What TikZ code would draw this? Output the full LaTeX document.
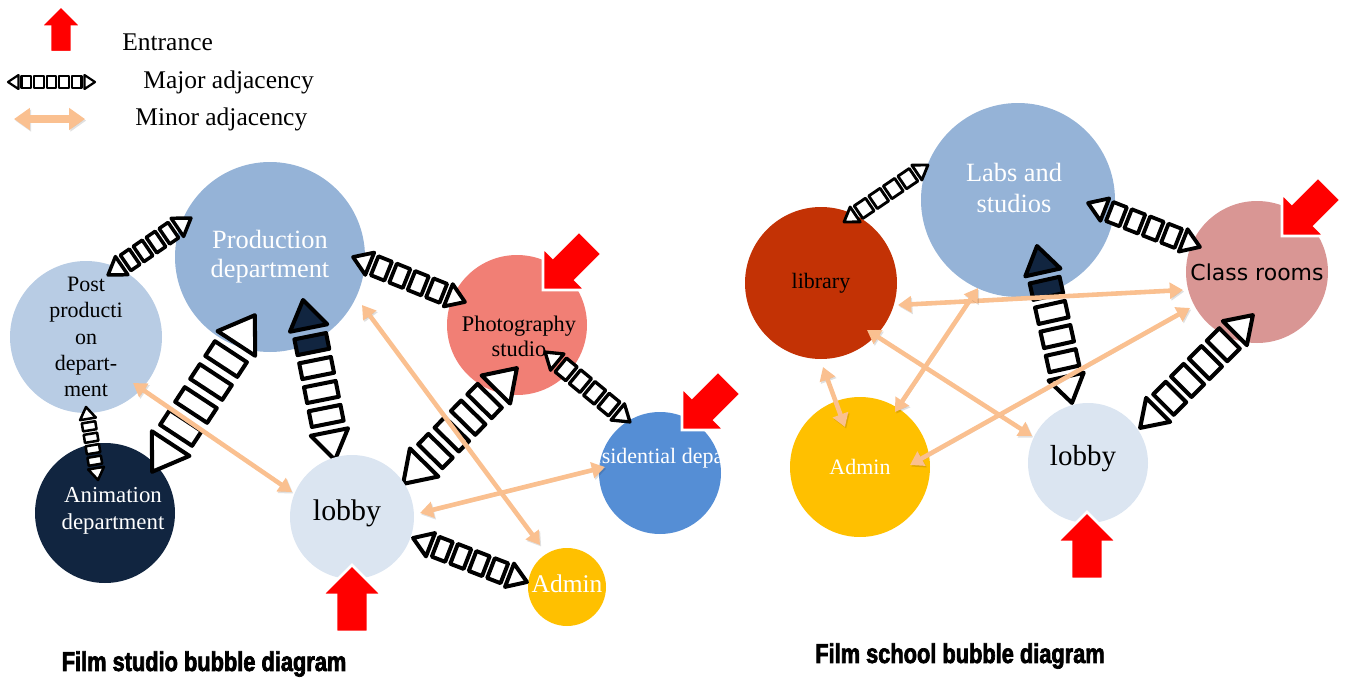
\documentclass[tikz,border=0pt]{standalone}
\usepackage{fontspec}
\setmainfont{Liberation Serif}
\newfontfamily\roomfont{DejaVu Sans}
\newfontfamily\titlefont[FakeStretch=0.8, FakeBold=2.5]{Liberation Sans}
\usetikzlibrary{positioning, calc, arrows.meta}
\definecolor{ProdColor}{RGB}{149,179,215}
\definecolor{PostColor}{RGB}{184,204,228}
\definecolor{AnimColor}{RGB}{17,37,64}
\definecolor{LobbyColor}{RGB}{219,229,241}
\definecolor{PhotoColor}{RGB}{241,127,117}
\definecolor{ResidColor}{RGB}{85,142,213}
\definecolor{AdminColor}{RGB}{255,192,0}
\definecolor{LibColor}{RGB}{195,50,5}
\definecolor{ClassColor}{RGB}{217,150,148}
\definecolor{MinorColor}{RGB}{250,192,144}
\definecolor{EntranceColor}{RGB}{255,0,0}
\tikzset{
    bubble/.style={circle, inner sep=0pt, minimum size=#1*0.4mm},
    bubbletext/.style={align=center, inner sep=0pt},
    majorpart/.style={draw=black, fill=white, line join=round},
    minor/.style={
        draw=MinorColor, line width=2.6pt,
        arrows={Triangle[width=9pt,length=7.5pt]-Triangle[width=9pt,length=7.5pt]},
        preaction={draw=black, opacity=0.12, transform canvas={shift={(0.7pt,-0.9pt)}}}
    },
    entrance/.pic={
        \path[fill=EntranceColor, draw=white, line width=1.5pt] (0,0) -- (30,30) -- (16,30) -- (16,67) -- (-16,67) -- (-16,30) -- (-30,30) -- cycle;
    },
    keytext/.style={font=\fontsize{14.5}{17}\selectfont, inner sep=0pt}
}
% striped double arrow: [fill of far end] {node}{offset}{node}{offset}{head width}{blocks}
\newcommand{\majorlink}[7][white]{%
    \coordinate (lk_a) at ($(#2)+(#3)$);
    \coordinate (lk_b) at ($(#4)+(#5)$);
    \path let \p1=($(lk_b)-(lk_a)$) in \pgfextra{%
        \pgfmathparse{atan2(\y1,\x1)}\xdef\linkang{\pgfmathresult}%
        \pgfmathparse{veclen(\x1,\y1)/0.569055}\xdef\linklen{\pgfmathresult}};
    \pgfmathsetmacro\halflen{\linklen/2}
    \pgfmathsetmacro\headlen{0.75*#6}
    \pgfmathsetmacro\gaplen{0.22*#6}
    \pgfmathsetmacro\blockwid{0.85*#6}
    \pgfmathsetmacro\blocklen{(\linklen-2*\headlen-(#7+1)*\gaplen)/#7}
    \begin{scope}[x=0.2mm, y=0.2mm, shift={($(lk_a)!0.5!(lk_b)$)}, rotate=\linkang, line width={min(2.3,0.09*#6)*1pt}]
        \draw[majorpart] (-\halflen,0) -- ++(\headlen,#6/2) -- ++(0,-#6) -- cycle;
        \draw[majorpart, fill=#1] (\halflen,0) -- ++(-\headlen,#6/2) -- ++(0,-#6) -- cycle;
        \foreach \k in {1,...,#7}{
            \ifnum\k=#7 \def\blockfill{#1}\else\def\blockfill{white}\fi
            \draw[majorpart, fill=\blockfill] ({-\halflen+\headlen+\gaplen+(\k-1)*(\blocklen+\gaplen)},{-\blockwid/2}) rectangle ++(\blocklen,\blockwid);
        }
    \end{scope}
}
\begin{document}
\begin{tikzpicture}[x=0.2mm, y=-0.2mm]
\useasboundingbox (0,0) rectangle (1349,682);

% Legend
\coordinate (key_entr) at (61,6);
\coordinate (key_major_a) at (8,82);
\coordinate (key_major_b) at (95,82);
\coordinate (key_minor_a) at (14,119);
\coordinate (key_minor_b) at (85,119);
\pic[scale=0.69] at (key_entr) {entrance};
\node[keytext, anchor=west] (key_entr_t) at (122,42) {Entrance};
\majorlink{key_major_a}{0,0}{key_major_b}{0,0}{14}{5}
\node[keytext, right=9.6mm of key_major_b] (key_major_t) {Major adjacency};
\draw[minor, line width=4pt, arrows={Triangle[width=12pt,length=9pt]-Triangle[width=12pt,length=9pt]}] (key_minor_a) -- (key_minor_b);
\node[keytext, right=10mm of key_minor_b] (key_minor_t) {Minor adjacency};

% Film studio
\node[bubble=95, fill=ProdColor] (st_prod) at (270,257) {};
\node[bubbletext, text=white, font=\fontsize{15}{16.5}\selectfont] (st_prod_t) at (st_prod) {Production\\department};
\node[bubble=76, fill=PostColor] (st_post) at (86,337) {};
\node[bubbletext, font=\fontsize{12.5}{15}\selectfont] (st_post_t) at (st_post) {Post\\producti\\on\\depart-\\ment};
\node[bubble=70, fill=AnimColor] (st_anim) at (105,513) {};
\node[bubbletext, text=white, font=\fontsize{13}{15.3}\selectfont] (st_anim_t) at ($(st_anim)+(8,-2)$) {Animation\\department};
\node[bubble=70, fill=PhotoColor] (st_photo) at (517,325) {};
\node[bubbletext, font=\fontsize{12.7}{14.2}\selectfont] (st_photo_t) at ($(st_photo)+(2,11)$) {Photography\\studio};
\node[bubble=61, fill=ResidColor] (st_resid) at (660,473) {};
\begin{scope}
    \clip (st_resid.center) circle (61);
    \node[bubbletext, text=white, font=\fontsize{12.5}{15}\selectfont] (st_resid_t) at ($(st_resid)+(19,-15)$) {Residential department};
\end{scope}
\node[bubble=39, fill=AdminColor] (st_admin) at (567,587) {};
\node[bubbletext, text=white, font=\fontsize{14.5}{17}\selectfont] (st_admin_t) at ($(st_admin)+(0,-3)$) {Admin};
\node[bubble=62] (st_lobby) at (352,517) {};

% Film school
\node[bubble=76, fill=LibColor] (sc_lib) at (821,283) {};
\node[bubbletext, font=\fontsize{12.5}{15}\selectfont] (sc_lib_t) at (sc_lib) {library};
\node[bubble=97, fill=ProdColor] (sc_labs) at (1018,200) {};
\node[bubbletext, text=white, font=\fontsize{15}{17.5}\selectfont] (sc_labs_t) at ($(sc_labs)+(-4,-12)$) {Labs and\\studios};
\node[bubble=71, fill=ClassColor] (sc_class) at (1257,272) {};
\node[bubbletext, font=\roomfont\fontsize{12.5}{15}\selectfont] (sc_class_t) at (sc_class) {Class rooms};
\node[bubble=70, fill=AdminColor] (sc_admin) at (860,467) {};
\node[bubbletext, text=white, font=\fontsize{12.5}{15}\selectfont] (sc_admin_t) at (sc_admin) {Admin};
\node[bubble=60] (sc_lobby) at (1088,463) {};

% Major adjacency
\majorlink{st_post}{22,-62}{st_prod}{-79,-39}{22}{4}
\majorlink{st_post}{0,70}{st_anim}{-7,-33}{16}{4}
\majorlink{st_anim}{47,-41}{st_prod}{-15,58}{45}{4}
\majorlink[AnimColor]{st_lobby}{-17,-57}{st_prod}{33,43}{38}{4}
\majorlink{st_prod}{83,0}{st_photo}{-52,-23}{24}{4}
\majorlink{st_lobby}{51,-33}{st_photo}{0,43}{40}{4}
\majorlink{st_photo}{28,27}{st_resid}{-30,-51}{21}{4}
\majorlink{st_lobby}{61,21}{st_admin}{-40,-5}{25}{4}
\majorlink{sc_lib}{23,-61}{sc_labs}{-90,-35}{18}{4}
\majorlink{sc_labs}{70,3}{sc_class}{-57,-25}{24}{4}
\majorlink[AnimColor]{sc_lobby}{-16,-60}{sc_labs}{19,46}{36}{4}
\majorlink{sc_lobby}{52,-35}{sc_class}{-4,43}{34}{4}

% Lobbies on top
\fill[LobbyColor] (st_lobby.center) circle (62);
\node[bubbletext, font=\fontsize{17}{20}\selectfont] (st_lobby_t) at ($(st_lobby)+(-5,-4)$) {lobby};
\fill[LobbyColor] (sc_lobby.center) circle (60);
\node[bubbletext, font=\fontsize{16.5}{20}\selectfont] (sc_lobby_t) at ($(sc_lobby)+(-5,-4)$) {lobby};

% Minor adjacency
\draw[minor] ($(st_post)+(47,46)$) -- ($(st_lobby)+(-60,-25)$);
\draw[minor] ($(st_prod)+(92,48)$) -- ($(st_admin)+(-27,-42)$);
\draw[minor] ($(st_lobby)+(68,-4)$) -- ($(st_resid)+(-55,-6)$);
\draw[minor] ($(sc_lib)+(77,22)$) -- ($(sc_class)+(-74,18)$);
\draw[minor] ($(sc_labs)+(-40,88)$) -- ($(sc_admin)+(35,-55)$);
\draw[minor] ($(sc_lib)+(46,47)$) -- ($(sc_lobby)+(-56,-27)$);
\draw[minor] ($(sc_lib)+(2,84)$) -- ($(sc_admin)+(-15,-40)$);
\draw[minor] ($(sc_class)+(-67,36)$) -- ($(sc_admin)+(50,-2)$);

% Entrances
\pic at ($(st_lobby)+(0,48)$) {entrance};
\pic[rotate=135] at ($(st_photo)+(26,-35)$) {entrance};
\pic[rotate=135] at ($(st_resid)+(22,-43)$) {entrance};
\pic[rotate=135] at ($(sc_class)+(25,-36)$) {entrance};
\pic at ($(sc_lobby)+(-1,49)$) {entrance};

% Titles
\node[font=\titlefont\bfseries\fontsize{15.5}{18}\selectfont] (st_title) at (204,664) {Film studio bubble diagram};
\node[font=\titlefont\bfseries\fontsize{15.5}{18}\selectfont] (sc_title) at (960,656) {Film school bubble diagram};

\end{tikzpicture}
\end{document}
